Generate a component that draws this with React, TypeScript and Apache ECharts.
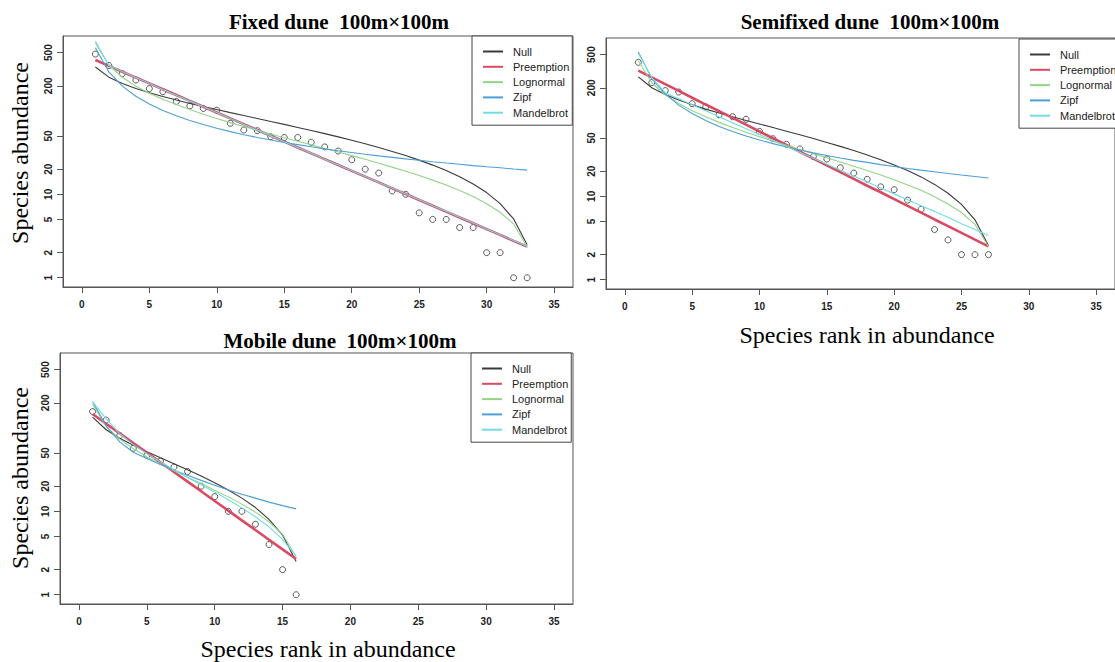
import React, { useEffect, useRef } from "react";
import * as echarts from "echarts";

// ---------- data ----------
const modelNames = ["Null", "Preemption", "Lognormal", "Zipf", "Mandelbrot"];
const xTicks = [0, 5, 10, 15, 20, 25, 30, 35];
const yTicks = [1, 2, 5, 10, 20, 50, 200, 500];

// Fixed dune
const obsFixed = [480, 350, 280, 235, 185, 170, 130, 115, 107, 102, 71, 59, 58, 49, 48, 48, 42, 37, 33, 26, 20, 18, 11, 10, 6, 5, 5, 4, 4, 2, 2, 1, 1];
const nullFixed = [336, 254, 213, 186, 165, 149, 135, 123, 113, 104, 95.4, 87.9, 81.1, 74.7, 68.9, 63.4, 58.2, 53.4, 48.8, 44.5, 40.4, 36.5, 32.7, 29.2, 25.7, 22.4, 19.3, 16.2, 13.3, 10.5, 7.72, 5.07, 2.49];
const preFixed = [407, 347, 295, 251, 214, 182, 155, 132, 112, 95.7, 81.5, 69.4, 59.1, 50.3, 42.8, 36.4, 31.0, 26.4, 22.5, 19.1, 16.3, 13.9, 11.8, 10.1, 8.55, 7.29, 6.21, 5.28, 4.5, 3.83, 3.26, 2.77, 2.36];
const lognFixed = [654, 353, 253, 198, 163, 138, 119, 104, 91.3, 81.1, 72.4, 64.9, 58.5, 52.8, 47.7, 43.2, 39.2, 35.5, 32.2, 29.1, 26.3, 23.6, 21.2, 18.9, 16.8, 14.8, 12.9, 11.1, 9.4, 7.7, 6.1, 4.4, 2.35];
const zipfFixed = [573, 293, 198, 150, 121, 101, 87.4, 76.9, 68.6, 61.9, 56.5, 51.9, 48.1, 44.8, 41.9, 39.4, 37.1, 35.1, 33.3, 31.7, 30.2, 28.9, 27.7, 26.6, 25.6, 24.6, 23.7, 22.9, 22.1, 21.4, 20.8, 20.1, 19.5];
const mandFixed = [690, 350, 296, 251, 213, 181, 154, 131, 112, 95.5, 81.3, 69.2, 58.9, 50.2, 42.7, 36.4, 31.0, 26.4, 22.5, 19.2, 16.4, 13.9, 11.9, 10.1, 8.6, 7.3, 6.25, 5.3, 4.52, 3.85, 3.28, 2.79, 2.38];

// Semifixed dune
const obsSemi = [404, 231, 185, 178, 129, 118, 95, 90, 84, 60, 49, 42, 37, 30, 28, 22, 19, 16, 13, 12, 9, 7, 4, 3, 2, 2, 2];
const nullSemi = [270, 200, 166, 143, 125, 111, 99.9, 90.0, 81.3, 73.6, 66.7, 60.4, 54.6, 49.3, 44.3, 39.7, 35.4, 31.3, 27.5, 23.8, 20.4, 17.1, 13.9, 10.9, 8.0, 5.23, 2.57];
const preSemi = [321, 267, 221, 184, 152, 126, 105, 87.0, 72.2, 59.9, 49.7, 41.2, 34.2, 28.4, 23.5, 19.5, 16.2, 13.4, 11.2, 9.25, 7.67, 6.37, 5.28, 4.39, 3.64, 3.02, 2.51];
const lognSemi = [421, 230, 165, 130, 106, 89.7, 77.0, 66.9, 58.7, 51.9, 45.9, 40.9, 36.5, 32.5, 29.0, 25.8, 23.0, 20.4, 18.0, 15.8, 13.7, 11.8, 9.9, 8.1, 6.4, 4.6, 2.5];
const zipfSemi = [537, 258, 169, 124, 98.3, 81.1, 68.9, 59.9, 52.9, 47.3, 42.8, 39.0, 35.9, 33.2, 30.8, 28.8, 27.0, 25.5, 24.0, 22.8, 21.6, 20.6, 19.7, 18.8, 18.0, 17.3, 16.6];
const mandSemi = [520, 265, 175, 148, 125, 106, 89.7, 76.2, 64.7, 55.0, 46.7, 39.6, 33.7, 28.6, 24.3, 20.6, 17.5, 14.9, 12.6, 10.7, 9.1, 7.7, 6.6, 5.6, 4.7, 4.0, 3.4];

// Mobile dune
const obsMobile = [157, 124, 81, 57, 47, 40, 34, 30, 20, 15, 10, 10, 7, 4, 2, 1];
const nullMobile = [135, 95.1, 75.1, 61.8, 51.8, 43.8, 37.2, 31.5, 26.5, 22.0, 18.0, 14.4, 11.1, 8.0, 5.2, 2.5];
const preMobile = [147, 112, 86.1, 65.9, 50.5, 38.7, 29.6, 22.7, 17.4, 13.3, 10.2, 7.8, 5.97, 4.57, 3.5, 2.68];
const lognMobile = [192, 104, 73.3, 56.3, 45.1, 36.9, 30.6, 25.6, 21.5, 17.9, 14.9, 12.2, 9.77, 7.5, 5.3, 2.86];
const zipfMobile = [207, 106, 68, 51, 43, 36.5, 31, 27, 23.5, 20.5, 18, 16, 14.4, 12.9, 11.7, 10.7];
const mandMobile = [205, 129, 85, 63, 49, 39, 31.5, 25.5, 20.8, 17, 13.8, 11, 8.6, 6.5, 4.6, 2.9];

const titles = ["Fixed dune  100m×100m", "Semifixed dune  100m×100m", "Mobile dune  100m×100m"];

// ---------- styling ----------
const COLORS: Record<string, string> = {
  Null: "#3a3a3a",
  Preemption: "#da4a63",
  Lognormal: "#93d487",
  Zipf: "#4d9fd9",
  Mandelbrot: "#72dce4",
};
const WIDTHS: Record<string, number> = { Null: 1.1, Preemption: 2.6, Lognormal: 1.1, Zipf: 1.1, Mandelbrot: 1.1 };

const panels = [
  { obs: obsFixed, fits: [nullFixed, preFixed, lognFixed, zipfFixed, mandFixed], grid: { left: 63, top: 36, width: 510, height: 251 }, legend: { left: 472, top: 36 } },
  { obs: obsSemi, fits: [nullSemi, preSemi, lognSemi, zipfSemi, mandSemi], grid: { left: 606, top: 38, width: 514, height: 251 }, legend: { left: 1019, top: 39 } },
  { obs: obsMobile, fits: [nullMobile, preMobile, lognMobile, zipfMobile, mandMobile], grid: { left: 60, top: 353, width: 513, height: 251 }, legend: { left: 471, top: 353 } },
];

const toPairs = (vals: number[]) => vals.map((v, i) => [i + 1, v]);

function buildOption() {
  const grid: any[] = [];
  const xAxis: any[] = [];
  const yAxis: any[] = [];
  const series: any[] = [];
  const legend: any[] = [];

  panels.forEach((p, gi) => {
    grid.push({ ...p.grid, show: true, borderColor: "#555", borderWidth: 1, backgroundColor: "transparent" });
    xAxis.push({
      type: "value",
      gridIndex: gi,
      min: -1.4,
      max: 36.4,
      axisLine: { show: true, onZero: false, lineStyle: { color: "#555", width: 1 } },
      axisTick: { show: true, length: 6, customValues: xTicks, lineStyle: { color: "#555" } },
      axisLabel: {
        customValues: xTicks,
        margin: 12,
        fontFamily: "Liberation Sans",
        fontWeight: "bold",
        fontSize: 10,
        color: "#222",
      },
      splitLine: { show: false },
    });
    yAxis.push({
      type: "log",
      logBase: 10,
      gridIndex: gi,
      min: 0.7745,
      max: 790.7,
      axisLine: { show: true, onZero: false, lineStyle: { color: "#555", width: 1 } },
      axisTick: { show: true, length: 6, customValues: yTicks, lineStyle: { color: "#555" } },
      axisLabel: {
        customValues: yTicks,
        rotate: 90,
        margin: 10,
        fontFamily: "Liberation Sans",
        fontWeight: "bold",
        fontSize: 10,
        color: "#222",
        formatter: (v: number) => String(Math.round(v)),
      },
      splitLine: { show: false },
      minorTick: { show: false },
    });
    series.push({
      type: "scatter",
      name: "Observed",
      xAxisIndex: gi,
      yAxisIndex: gi,
      data: toPairs(p.obs),
      symbol: "circle",
      symbolSize: 6,
      itemStyle: { color: "rgba(0,0,0,0)", borderColor: "#333", borderWidth: 1 },
      z: 2,
      silent: true,
    });
    p.fits.forEach((vals, mi) => {
      const name = modelNames[mi];
      series.push({
        type: "line",
        name,
        xAxisIndex: gi,
        yAxisIndex: gi,
        data: toPairs(vals),
        symbol: "none",
        showSymbol: false,
        lineStyle: { color: COLORS[name], width: WIDTHS[name] },
        itemStyle: { color: COLORS[name] },
        z: 3,
        silent: true,
      });
    });
    legend.push({
      data: modelNames,
      left: p.legend.left,
      top: p.legend.top,
      orient: "vertical",
      align: "left",
      selectedMode: false,
      backgroundColor: "#fff",
      borderColor: "#444",
      borderWidth: 1,
      borderRadius: 0,
      padding: [10, 3, 7, 10],
      itemWidth: 20,
      itemHeight: 9,
      itemGap: 4.3,
      itemStyle: { color: "rgba(0,0,0,0)", borderColor: "rgba(0,0,0,0)", borderWidth: 0 },
      textStyle: { fontFamily: "Liberation Sans", fontSize: 11, color: "#222", padding: [0, 0, 0, 5] },
    });
  });

  const serifTitle = 'bold 21px "Liberation Serif"';
  const serifAxis = '24px "Liberation Serif"';
  const graphic: any[] = [
    { type: "text", x: 339, y: 22, style: { text: titles[0], font: serifTitle, textAlign: "center", textVerticalAlign: "middle", fill: "#000" } },
    { type: "text", x: 870, y: 22, style: { text: titles[1], font: serifTitle, textAlign: "center", textVerticalAlign: "middle", fill: "#000" } },
    { type: "text", x: 340, y: 341, style: { text: titles[2], font: serifTitle, textAlign: "center", textVerticalAlign: "middle", fill: "#000" } },
    { type: "text", x: 20, y: 153, rotation: Math.PI / 2, style: { text: "Species abundance", font: serifAxis, textAlign: "center", textVerticalAlign: "middle", fill: "#000" } },
    { type: "text", x: 20, y: 478, rotation: Math.PI / 2, style: { text: "Species abundance", font: serifAxis, textAlign: "center", textVerticalAlign: "middle", fill: "#000" } },
    { type: "text", x: 867, y: 335, style: { text: "Species rank in abundance", font: serifAxis, textAlign: "center", textVerticalAlign: "middle", fill: "#000" } },
    { type: "text", x: 328, y: 649, style: { text: "Species rank in abundance", font: serifAxis, textAlign: "center", textVerticalAlign: "middle", fill: "#000" } },
  ];

  return {
    animation: false,
    backgroundColor: "#fff",
    grid,
    xAxis,
    yAxis,
    series,
    legend,
    graphic,
  };
}

export default function App() {
  const ref = useRef<HTMLDivElement>(null);
  useEffect(() => {
    document.body.style.margin = "0";
    const chart = echarts.init(ref.current!, null, { renderer: "svg" });
    chart.setOption(buildOption());
    return () => chart.dispose();
  }, []);
  return <div ref={ref} style={{ position: "fixed", left: 0, top: 0, width: 1115, height: 662 }} />;
}
